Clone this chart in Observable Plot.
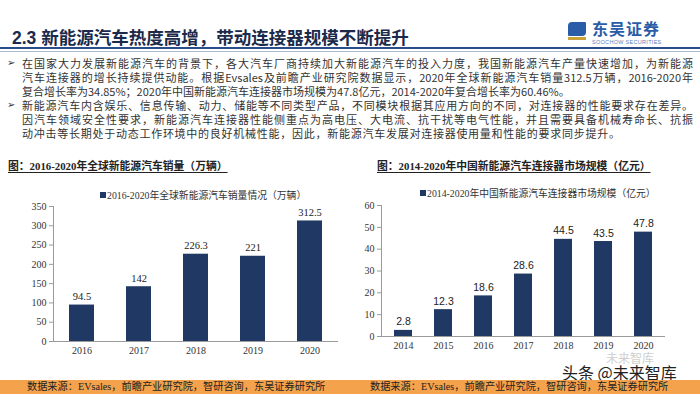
<!DOCTYPE html>
<html><head><meta charset="utf-8">
<script src="https://cdn.jsdelivr.net/npm/d3@7"></script>
<script src="https://cdn.jsdelivr.net/npm/@observablehq/plot@0.6"></script>
<style>
html,body{margin:0;padding:0;background:#fff;}
#page{position:relative;width:700px;height:394px;overflow:hidden;font-family:"Liberation Serif","Noto Sans CJK SC",serif;color:#333;}
.abs{position:absolute;white-space:nowrap;}
.title{left:12px;top:24px;font-family:"Liberation Sans","Noto Sans CJK SC",sans-serif;font-weight:bold;font-size:17.5px;color:#1b2a4a;}
.line{text-align:justify;text-align-last:justify;font-size:11px;line-height:14px;height:14px;color:#333;font-family:"Noto Sans CJK SC",serif;}
.bullet{font-size:10px;color:#333;font-family:"DejaVu Sans",sans-serif;}
.head{font-weight:bold;font-size:10.8px;color:#222;text-decoration:underline;text-underline-offset:2px;font-family:"Liberation Serif","Noto Sans CJK SC",serif;}
.legend{font-size:9.8px;color:#333;display:flex;align-items:center;}
.legend i{display:inline-block;width:6px;height:6px;background:#1f3864;margin-right:1px;}
.foot{font-size:10.2px;line-height:14px;color:#222;font-family:"Liberation Serif","Noto Sans CJK SC",serif;}
</style></head>
<body><div id="page">
  <div class="abs title">2.3 新能源汽车热度高增，带动连接器规模不断提升</div>
  <div class="abs" style="left:568px;top:22px;width:18px;height:14px;background:#2a5ca8;border-radius:4px 1px 4px 1px;"></div>
  <div class="abs" style="left:568px;top:37px;width:18px;height:3px;background:#c9a23a;"></div>
  <div class="abs" style="left:592px;top:20px;font-family:'Noto Sans CJK SC',sans-serif;font-weight:bold;font-size:16px;line-height:16px;color:#2a5ca8;letter-spacing:1px;">东吴证券</div>
  <div class="abs" style="left:592px;top:39px;font-family:'Liberation Sans',sans-serif;font-size:5.5px;line-height:6px;color:#5a7fb8;letter-spacing:0.3px;">SOOCHOW SECURITIES</div>
  <div class="abs" style="left:0;top:47px;width:700px;height:2px;background:#2b4c8c;"></div>
  <div class="abs" style="left:0;top:51px;width:700px;height:1px;background:#a9bbd9;"></div>

  <div class="abs bullet" style="left:7px;top:57px;">➢</div>
  <div class="abs line" style="left:22px;top:56px;width:671px;">在国家大力发展新能源汽车的背景下，各大汽车厂商持续加大新能源汽车的投入力度，我国新能源汽车产量快速增加，为新能源</div>
  <div class="abs line" style="left:22px;top:70px;width:671px;">汽车连接器的增长持续提供动能。根据Evsales及前瞻产业研究院数据显示，2020年全球新能源汽车销量312.5万辆，2016-2020年</div>
  <div class="abs line" style="left:22px;top:84px;width:451px;">复合增长率为34.85%；2020年中国新能源汽车连接器市场规模为47.8亿元，2014-2020年复合增长率为60.46%。</div>
  <div class="abs bullet" style="left:7px;top:99px;">➢</div>
  <div class="abs line" style="left:22px;top:98px;width:671px;">新能源汽车内含娱乐、信息传输、动力、储能等不同类型产品，不同模块根据其应用方向的不同，对连接器的性能要求存在差异。</div>
  <div class="abs line" style="left:22px;top:112px;width:671px;">因汽车领域安全性要求，新能源汽车连接器性能侧重点为高电压、大电流、抗干扰等电气性能，并且需要具备机械寿命长、抗振</div>
  <div class="abs line" style="left:22px;top:126px;width:598px;">动冲击等长期处于动态工作环境中的良好机械性能，因此，新能源汽车发展对连接器使用量和性能的要求同步提升。</div>

  <div class="abs head" style="left:8px;top:157px;">图：2016-2020年全球新能源汽车销量（万辆）</div>
  <div class="abs head" style="left:377px;top:157px;">图：2014-2020年中国新能源汽车连接器市场规模（亿元）</div>

  <div class="abs legend" style="left:100px;top:188px;"><i></i>2016-2020年全球新能源汽车销量情况（万辆）</div>
  <div class="abs legend" style="left:420px;top:186px;"><i></i>2014-2020年中国新能源汽车连接器市场规模（亿元）</div>

  <div id="chartL" class="abs" style="left:0;top:196px;"></div>
  <div id="chartR" class="abs" style="left:350px;top:196px;"></div>

  <div class="abs" style="left:606px;top:352px;font-family:'Noto Sans CJK SC',sans-serif;font-size:12px;line-height:12px;color:#cfcfcf;">未来智库</div>
  <div class="abs" style="left:562px;top:364px;font-family:'Noto Sans CJK SC',sans-serif;font-size:16px;line-height:16px;color:#222;">头条 @未来智库</div>

  <div class="abs" style="left:0;top:380px;width:700px;height:14px;background:#f5a24c;"></div>
  <div class="abs foot" style="left:27px;top:380px;">数据来源：EVsales，前瞻产业研究院，智研咨询，东吴证券研究所</div>
  <div class="abs foot" style="left:370px;top:380px;">数据来源：EVsales，前瞻产业研究院，智研咨询，东吴证券研究所</div>
</div>
<script>
const salesYears = ["2016","2017","2018","2019","2020"];
const salesValues = [94.5,142,226.3,221,312.5];
const salesTicks = [0,50,100,150,200,250,300,350];

const marketYears = ["2014","2015","2016","2017","2018","2019","2020"];
const marketValues = [2.8,12.3,18.6,28.6,44.5,43.5,47.8];
const marketTicks = [0,10,20,30,40,50,60];

const barColor = "#1f3864";
const axisColor = "#9a9a9a";

const salesData = salesYears.map((y,i)=>({year:y,value:salesValues[i]}));
const marketData = marketYears.map((y,i)=>({year:y,value:marketValues[i]}));

const left = Plot.plot({
  width:350, height:165,
  marginLeft:53, marginRight:12, marginTop:10, marginBottom:20,
  style:{fontFamily:"'Liberation Serif','Times New Roman',serif",fontSize:"10px",color:"#333",background:"transparent"},
  x:{domain:salesYears, paddingInner:0.56, paddingOuter:0.28},
  y:{domain:[0,350]},
  marks:[
    Plot.barY(salesData,{x:"year",y:"value",fill:barColor}),
    Plot.frame({anchor:"left",stroke:axisColor}),
    Plot.ruleY([0],{stroke:axisColor}),
    Plot.axisY({ticks:salesTicks,tickSize:4,tickPadding:3,stroke:axisColor,label:null,fill:"#333"}),
    Plot.axisX({tickSize:0,tickPadding:5,label:null,fill:"#333"}),
    Plot.text(salesData,{x:"year",y:"value",text:d=>String(d.value),dy:-5,lineAnchor:"bottom",fontSize:10.5,fill:"#222"})
  ]
});
document.getElementById("chartL").appendChild(left);

const right = Plot.plot({
  width:350, height:160,
  marginLeft:31, marginRight:35, marginTop:9, marginBottom:20,
  style:{fontFamily:"'Liberation Serif','Times New Roman',serif",fontSize:"10px",color:"#333",background:"transparent"},
  x:{domain:marketYears, paddingInner:0.56, paddingOuter:0.28},
  y:{domain:[0,60]},
  marks:[
    Plot.barY(marketData,{x:"year",y:"value",fill:barColor}),
    Plot.frame({anchor:"left",stroke:axisColor}),
    Plot.ruleY([0],{stroke:axisColor}),
    Plot.axisY({ticks:marketTicks,tickSize:4,tickPadding:3,stroke:axisColor,label:null,fill:"#333"}),
    Plot.axisX({tickSize:0,tickPadding:5,label:null,fill:"#333"}),
    Plot.text(marketData,{x:"year",y:"value",text:d=>String(d.value),dy:-5,lineAnchor:"bottom",fontSize:10.5,fill:"#222",fontFamily:"'Liberation Sans',Arial,sans-serif"})
  ]
});
document.getElementById("chartR").appendChild(right);
</script>
</body></html>
